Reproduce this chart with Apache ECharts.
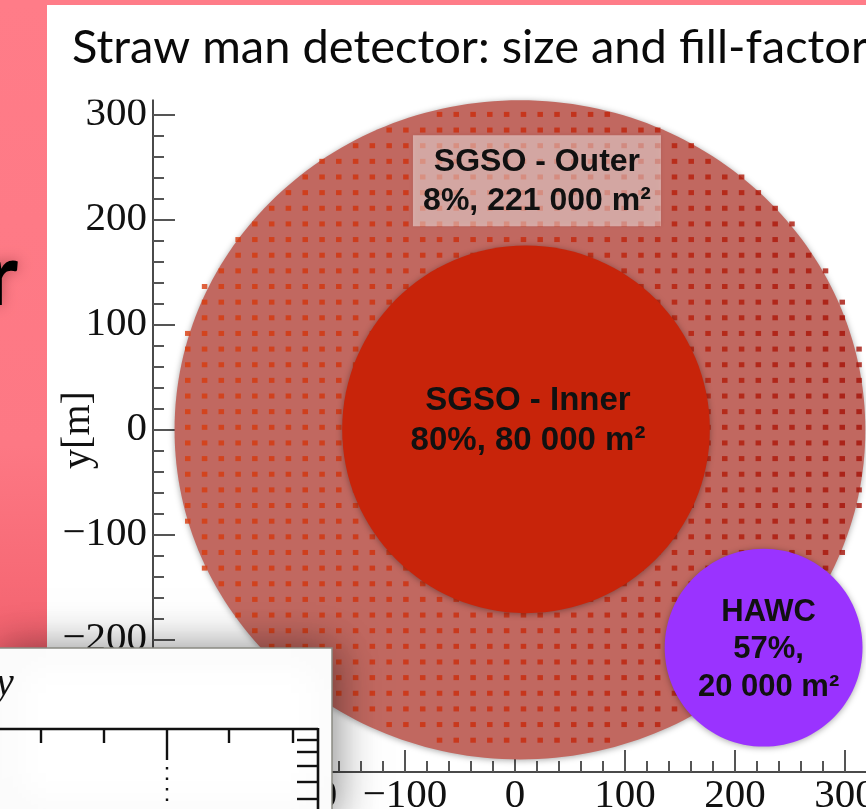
<!DOCTYPE html>
<html>
<head>
<meta charset="utf-8">
<script src="https://cdn.jsdelivr.net/npm/echarts@6/dist/echarts.min.js"></script>
<style>html,body{margin:0;padding:0;background:#fff;overflow:hidden}#chart{width:866px;height:809px}</style>
</head>
<body>
<div id="chart"></div>
<script>
// ---------------- data ----------------
const detectorNames = ['SGSO - Outer', 'SGSO - Inner', 'HAWC'];
const fillFactors = ['8%', '80%', '57%'];
const areaLabels = ['221 000 m²', '80 000 m²', '20 000 m²'];
const centerX = [4.5, 10, 226];      // m
const centerY = [-0.5, 0, -208];     // m
const radiusM = [314, 171, 92];      // m

// tank grid of the outer array (m)
const tankColumnsX = [-297.5, -282.2, -267.0, -251.7, -236.5, -221.2, -206.0, -190.7, -175.4, -160.2,
  -144.9, -129.7, -114.4, -99.2, -83.9, -68.6, -53.4, -38.1, -22.9, -7.6, 7.7, 22.9, 38.2, 53.4, 68.7,
  83.9, 99.2, 114.5, 129.7, 145.0, 160.2, 175.5, 190.7, 206.0, 221.2, 236.5, 251.8, 267.0, 282.3, 297.5, 312.8];
const tankRowsY = [299.9, 285.0, 270.1, 255.2, 240.3, 225.4, 210.5, 195.6, 180.7, 165.8, 150.9, 136.0,
  121.1, 106.2, 91.3, 76.4, 61.5, 46.6, 31.7, 16.8, 1.9, -13.0, -27.9, -42.8, -57.7, -72.6, -87.5, -102.4,
  -117.3, -132.2, -147.1, -162.0, -176.9, -191.8, -206.7, -221.6, -236.5, -251.4, -266.3, -281.2, -296.1];
const tankArrayCenter = [4.5, 1.9];
const tankArrayRadii = [319.5, 309];

// ---------------- build ----------------
const tankData = [];
tankRowsY.forEach(function (y) {
  tankColumnsX.forEach(function (x) {
    const u = (x - tankArrayCenter[0]) / tankArrayRadii[0];
    const v = (y - tankArrayCenter[1]) / tankArrayRadii[1];
    if (u * u + v * v <= 1) tankData.push([x, y]);
  });
});

const diskData = detectorNames.map(function (n, i) { return [centerX[i], centerY[i], radiusM[i], i]; });
function labelText(i) {
  if (i === 2) return detectorNames[i] + '\n' + fillFactors[i] + ',\n' + areaLabels[i];
  return detectorNames[i] + '\n' + fillFactors[i] + ', ' + areaLabels[i];
}

const diskColors = ['#c16860', '#c8240a', '#9a33ff'];
const labelFont = 'bold 32px "Liberation Sans", Arial, Helvetica, sans-serif';
const serif = '"Liberation Serif", "Times New Roman", serif';

function diskShape(api, color, round) {
  const c = api.coord([api.value(0), api.value(1)]);
  const r = api.value(2);
  let rx = api.size([r, 0])[0];
  let ry = api.size([0, r])[1];
  if (round) { const m = (rx + ry) / 2; rx = m; ry = m; }
  return {
    type: 'ellipse',
    shape: { cx: c[0], cy: c[1], rx: rx, ry: ry },
    style: { fill: color, shadowBlur: 6, shadowColor: 'rgba(0,0,0,0.35)', shadowOffsetY: 1 }
  };
}

function renderOuter(params, api) {
  return diskShape(api, diskColors[0], false);
}

function renderTop(params, api) {
  const i = api.value(3);
  const c = api.coord([api.value(0), api.value(1)]);
  if (i === 0) {
    const bx = c[0] + 17, by = c[1] - 249;
    return {
      type: 'group',
      children: [
        { type: 'rect', shape: { x: bx - 124, y: by - 45.5, width: 248, height: 91 },
          style: { fill: 'rgba(255,255,255,0.45)', shadowBlur: 4, shadowColor: 'rgba(0,0,0,0.2)' } },
        { type: 'text', x: bx, y: by + 1,
          style: { text: labelText(i), font: labelFont, fill: '#111', align: 'center', verticalAlign: 'middle', lineHeight: 39 } }
      ]
    };
  }
  const disk = diskShape(api, diskColors[i], true);
  const isHawc = i === 2;
  return {
    type: 'group',
    children: [
      disk,
      { type: 'text', x: c[0] + (isHawc ? 5 : 2), y: c[1] + (isHawc ? 2 : -8),
        style: { text: labelText(i), font: isHawc ? 'bold 31px "Liberation Sans", Arial, sans-serif' : 'bold 33px "Liberation Sans", Arial, sans-serif',
                 fill: '#111', align: 'center', verticalAlign: 'middle', lineHeight: isHawc ? 37.5 : 40 } }
    ]
  };
}

function fmt(v) { return v < 0 ? '\u2212' + Math.abs(v) : String(v); }

const chart = echarts.init(document.getElementById('chart'), null, { renderer: 'canvas' });

const insetLines = [];
[41, 104, 167, 229, 293].forEach(function (x) {
  insetLines.push({ type: 'line', shape: { x1: x, y1: 729, x2: x, y2: x === 167 ? 760 : 743 },
    style: { stroke: '#111', lineWidth: 2.4 }, z: 102 });
});
[740, 752, 766, 782, 799].forEach(function (y) {
  insetLines.push({ type: 'line', shape: { x1: 297, y1: y, x2: 318, y2: y },
    style: { stroke: '#111', lineWidth: 2.4 }, z: 102 });
});

const option = {
  animation: false,
  backgroundColor: '#ffffff',
  grid: { left: 75, right: -89, top: 9.3, bottom: -40.3, containLabel: false, outerBoundsMode: 'none' },
  xAxis: {
    type: 'value', min: -400, max: 400, interval: 100, offset: -77.3,
    axisLine: { onZero: false, lineStyle: { color: '#4a4a4a', width: 2 } },
    axisTick: { inside: true, length: 22, lineStyle: { color: '#555', width: 2 } },
    minorTick: { show: true, splitNumber: 5, length: 11, lineStyle: { color: '#555', width: 2 } },
    splitLine: { show: false }, minorSplitLine: { show: false },
    axisLabel: { margin: 4, formatter: fmt, fontFamily: serif, fontSize: 41, color: '#111' }
  },
  yAxis: {
    type: 'value', min: -400, max: 400, interval: 100, offset: -78,
    axisLine: { onZero: false, lineStyle: { color: '#4a4a4a', width: 2 } },
    axisTick: { inside: true, length: 22, lineStyle: { color: '#555', width: 2 } },
    minorTick: { show: true, splitNumber: 5, length: 11, lineStyle: { color: '#555', width: 2 } },
    splitLine: { show: false }, minorSplitLine: { show: false },
    axisLabel: { margin: 6, formatter: fmt, fontFamily: serif, fontSize: 41, color: '#111' }
  },
  visualMap: {
    show: false, type: 'continuous', seriesIndex: 1, dimension: 0, min: -300, max: 315,
    inRange: { color: ['#d83c0e', '#c8290b', '#a31108'] }
  },
  series: [
    { type: 'custom', name: 'outer', coordinateSystem: 'cartesian2d', data: [diskData[0]],
      dimensions: ['x', 'y', 'r', 'i'], encode: { x: 0, y: 1 }, renderItem: renderOuter, z: 1, silent: true },
    { type: 'scatter', name: 'tanks', data: tankData, symbol: 'rect', symbolSize: [5.5, 5],
      z: 2, silent: true, clip: false },
    { type: 'custom', name: 'detectors', coordinateSystem: 'cartesian2d', data: diskData,
      dimensions: ['x', 'y', 'r', 'i'], encode: { x: 0, y: 1 }, renderItem: renderTop, z: 3, silent: true }
  ],
  graphic: [
    // hide axis line and labels above the top of the frame
    { type: 'rect', shape: { x: 47, y: 0, width: 150, height: 99.5 }, z: 99, style: { fill: '#ffffff' } },
    // slide background pieces
    { type: 'rect', shape: { x: 0, y: 0, width: 47, height: 809 }, z: 100,
      style: { fill: new echarts.graphic.LinearGradient(0, 0, 0, 1, [
        { offset: 0, color: '#ff7c88' }, { offset: 0.55, color: '#fd7884' }, { offset: 0.8, color: '#f4636f' }, { offset: 1, color: '#e85866' }]) } },
    { type: 'rect', shape: { x: 0, y: 0, width: 866, height: 5 }, z: 100, style: { fill: '#ff7c88' } },
    { type: 'text', x: 18, y: 277, z: 101,
      style: { text: 'r', font: 'bold 86px Lato, "Noto Sans", sans-serif', fill: '#000', align: 'right', verticalAlign: 'middle',
               textShadowBlur: 14, textShadowColor: 'rgba(60,0,0,0.35)' } },
    { type: 'text', x: 72, y: 47.6, z: 101,
      style: { text: 'Straw man detector: size and fill-factor', font: '47px Lato, "Noto Sans", sans-serif', fill: '#0a0a0a',
               align: 'left', verticalAlign: 'middle' } },
    { type: 'text', x: 78, y: 430, rotation: Math.PI / 2, z: 101,
      style: { text: 'y[m]', font: '40px ' + serif, fill: '#111', align: 'center', verticalAlign: 'middle' } },
    // inset from the neighbouring slide
    { type: 'rect', shape: { x: -3, y: 648, width: 335, height: 170 }, z: 101,
      style: { fill: '#ffffff', stroke: '#8a8a82', lineWidth: 1.5, shadowBlur: 40, shadowColor: 'rgba(0,0,0,0.45)', shadowOffsetX: 4 } },
    { type: 'text', x: -4, y: 684.5, z: 102,
      style: { text: 'y', font: 'italic 40px ' + serif, fill: '#111', align: 'left', verticalAlign: 'middle' } },
    { type: 'line', shape: { x1: -2, y1: 729, x2: 318, y2: 729 }, z: 102, style: { stroke: '#111', lineWidth: 2.6 } },
    { type: 'line', shape: { x1: 318, y1: 728, x2: 318, y2: 812 }, z: 102, style: { stroke: '#111', lineWidth: 2.6 } },
    { type: 'line', shape: { x1: 167, y1: 767, x2: 167, y2: 812 }, z: 102, style: { stroke: '#111', lineWidth: 2.4, lineDash: [2.5, 8] } }
  ].concat(insetLines)
};

chart.setOption(option);
</script>
</body>
</html>
